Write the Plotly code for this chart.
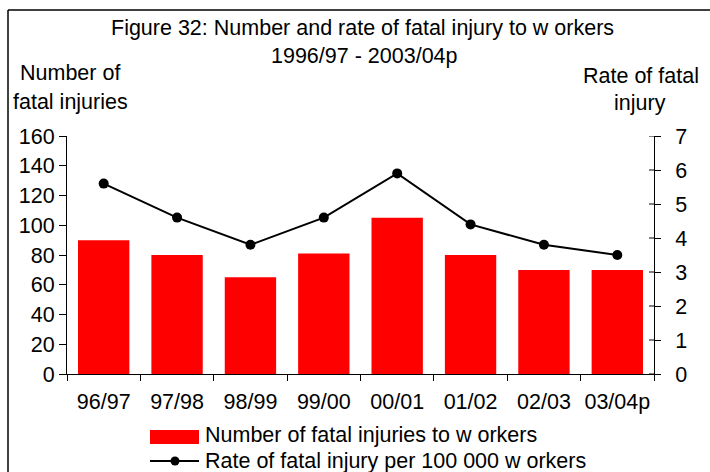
import plotly.graph_objects as go

# Data
years = ["96/97", "97/98", "98/99", "99/00", "00/01", "01/02", "02/03", "03/04p"]
fatal_injuries = [90, 80, 65, 81, 105, 80, 70, 70]
fatal_rate = [5.6, 4.6, 3.8, 4.6, 5.9, 4.4, 3.8, 3.5]
count_ticks = [0, 20, 40, 60, 80, 100, 120, 140, 160]
rate_ticks = [0, 1, 2, 3, 4, 5, 6, 7]

W, H = 710, 472
L, R, T, B = 67, 56, 136, 98
PW, PH = W - L - R, H - T - B
FONT = "Liberation Sans, Arial, sans-serif"
FS = 21.5


def px(x):
    return (x - L) / PW


def py(y):
    return (H - B - y) / PH


fig = go.Figure()
fig.add_trace(go.Bar(
    x=years, y=fatal_injuries, marker=dict(color="#ff0000", line=dict(width=0)),
    name="Number of fatal injuries to w orkers", showlegend=False,
))
fig.add_trace(go.Scatter(
    x=years, y=fatal_rate, yaxis="y2", mode="lines+markers",
    line=dict(color="black", width=2), marker=dict(color="black", size=10),
    name="Rate of fatal injury per 100 000 w orkers", showlegend=False,
))

shapes = []
# inner half of the crossing ticks on the right axis
for v in rate_ticks:
    shapes.append(dict(type="line", xref="paper", yref="y2", x0=1 - 5 / PW, x1=1,
                       y0=v, y1=v, line=dict(color="black", width=1)))
# outer frame (top and left edges)
shapes.append(dict(type="line", xref="paper", yref="paper", x0=px(8), x1=px(712),
                   y0=py(10), y1=py(10), line=dict(color="black", width=1.5)))
shapes.append(dict(type="line", xref="paper", yref="paper", x0=px(8), x1=px(8),
                   y0=py(10), y1=py(474), line=dict(color="black", width=1.5)))
# legend keys
shapes.append(dict(type="rect", xref="paper", yref="paper", x0=px(150), x1=px(199),
                   y0=py(444), y1=py(430), fillcolor="#ff0000", line=dict(width=0)))
shapes.append(dict(type="line", xref="paper", yref="paper", x0=px(150), x1=px(199),
                   y0=py(461), y1=py(461), line=dict(color="black", width=2)))
shapes.append(dict(type="circle", xref="paper", yref="paper", x0=px(170.5), x1=px(179.5),
                   y0=py(465.5), y1=py(456.5), fillcolor="black", line=dict(width=0)))

annotations = []


def label(text, x, y, xanchor="center"):
    annotations.append(dict(text=text, xref="paper", yref="paper", x=px(x), y=py(y),
                            xanchor=xanchor, yanchor="middle", showarrow=False,
                            font=dict(family=FONT, size=FS, color="black")))


label("Figure 32: Number and rate of fatal injury to w orkers", 363, 28)
label("1996/97 - 2003/04p", 365, 56)
label("Number of", 70, 73)
label("fatal injuries", 70, 102)
label("Rate of fatal", 641, 76)
label("injury", 640, 103)
label("Number of fatal injuries to w orkers", 203, 435, "left")
label("Rate of fatal injury per 100 000 w orkers", 203, 461, "left")

fig.update_layout(
    width=W, height=H,
    margin=dict(l=L, r=R, t=T, b=B, pad=0),
    paper_bgcolor="white", plot_bgcolor="white",
    font=dict(family=FONT, size=FS, color="black"),
    bargap=0.3,
    showlegend=False,
    shapes=shapes,
    annotations=annotations,
    xaxis=dict(
        type="category", categoryorder="array", categoryarray=years,
        showline=True, linecolor="black", linewidth=1, showgrid=False,
        ticks="outside", tickson="boundaries", ticklen=6, tickcolor="black",
        tickfont=dict(size=FS), tickangle=0, ticklabelstandoff=8, automargin=False,
    ),
    yaxis=dict(
        range=[0, 160], tickvals=count_ticks, showline=True, linecolor="black",
        linewidth=1, showgrid=False, zeroline=False, ticks="outside", ticklen=7,
        tickcolor="black", tickfont=dict(size=FS), automargin=False,
    ),
    yaxis2=dict(
        range=[0, 7], tickvals=rate_ticks, overlaying="y", side="right",
        showline=True, linecolor="black", linewidth=1, showgrid=False,
        zeroline=False, ticks="outside", ticklen=6, tickcolor="black",
        tickfont=dict(size=FS), ticklabelstandoff=10, automargin=False,
    ),
)

fig.write_html("out.html")
